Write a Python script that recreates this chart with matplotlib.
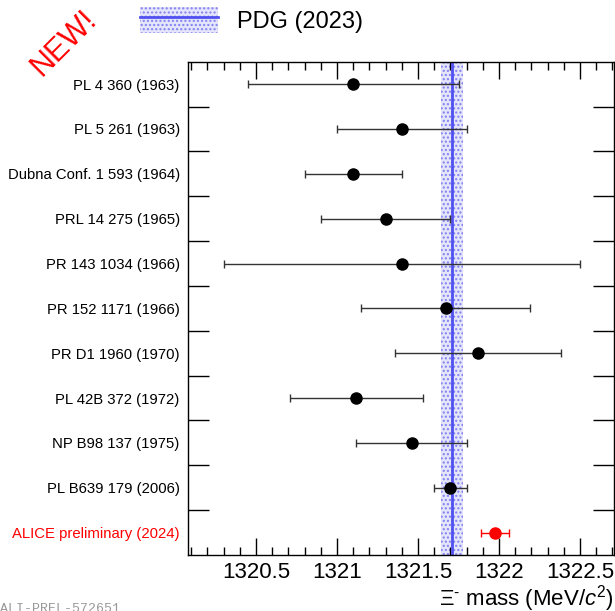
import numpy as np
import matplotlib
matplotlib.use('Agg')
import matplotlib.pyplot as plt
from matplotlib.patches import Patch
from matplotlib.lines import Line2D
from matplotlib.ticker import MultipleLocator, FormatStrFormatter

plt.rcParams['font.family'] = ['Liberation Sans', 'DejaVu Sans']
plt.rcParams['mathtext.fontset'] = 'custom'
plt.rcParams['mathtext.rm'] = 'Liberation Sans'
plt.rcParams['mathtext.it'] = 'Liberation Sans:italic'

# measurements, top to bottom
labels = ['PL 4 360 (1963)', 'PL 5 261 (1963)', 'Dubna Conf. 1 593 (1964)',
          'PRL 14 275 (1965)', 'PR 143 1034 (1966)', 'PR 152 1171 (1966)',
          'PR D1 1960 (1970)', 'PL 42B 372 (1972)', 'NP B98 137 (1975)',
          'PL B639 179 (2006)', 'ALICE preliminary (2024)']
mass = [1321.10, 1321.40, 1321.10, 1321.30, 1321.40, 1321.67,
        1321.87, 1321.12, 1321.46, 1321.70, 1321.975]
err = [0.65, 0.40, 0.30, 0.40, 1.10, 0.52, 0.51, 0.41, 0.34, 0.10, 0.085]

pdg_mass = 1321.71
pdg_err = 0.07

n = len(labels)
ypos = np.arange(n)[::-1] + 0.5

fig = plt.figure(figsize=(6.15, 6.11), dpi=100)
ax = fig.add_axes([188/615, 1-555/611, 1-188/615-0.0016, (555-61.7)/611])

# PDG band
band_col = '#e4e4fa'
ax.axvspan(pdg_mass-pdg_err, pdg_mass+pdg_err, facecolor=band_col,
           edgecolor='#8080f0', hatch='....', lw=0, zorder=1)
ax.axvline(pdg_mass, color='#5050f0', lw=2, zorder=2)

# measurements
for i in range(n):
    col = 'red' if labels[i].startswith('ALICE') else 'black'
    ecol = 'red' if col == 'red' else '#333333'
    ax.errorbar(mass[i], ypos[i], xerr=err[i], fmt='o', color=col, ecolor=ecol,
                ms=8, elinewidth=1, capsize=3, capthick=1, zorder=3)

ax.set_xlim(1320.08, 1322.71)
ax.set_ylim(0, n)

ax.xaxis.set_major_locator(MultipleLocator(0.5))
ax.xaxis.set_minor_locator(MultipleLocator(0.1))
ax.xaxis.set_major_formatter(FormatStrFormatter('%g'))
ax.tick_params(axis='x', which='major', direction='in', length=12, width=1,
               top=True, labelsize=16, pad=5)
ax.tick_params(axis='x', which='minor', direction='in', length=6, width=1, top=True)

ax.set_yticks(np.arange(1, n))
ax.set_yticks(ypos, minor=True)
ax.set_yticklabels([], minor=False)
ax.set_yticklabels(labels, minor=True)
ax.tick_params(axis='y', which='major', direction='in', length=15, width=1,
               right=True, labelleft=False)
ax.tick_params(axis='y', which='minor', length=0, labelsize=10.7, pad=6)
for t in ax.get_yticklabels(minor=True):
    if t.get_text().startswith('ALICE'):
        t.set_color('red')

for s in ax.spines.values():
    s.set_linewidth(1)

ax.set_xlabel(r'$\Xi^{\text{-}}$ mass (MeV/$c^{2}$)', fontsize=16, loc='right',
              labelpad=0)

# legend
h_band = Patch(facecolor=band_col, edgecolor='#8080f0', hatch='....', lw=0)
h_line = Line2D([], [], color='#5050f0', lw=2)
fig.legend([(h_band, h_line)], ['PDG (2023)'], loc='upper left',
           bbox_to_anchor=(140/615, 1-7/611), frameon=False, fontsize=17,
           handlelength=3.3, handleheight=1.3, handletextpad=0.8,
           borderpad=0, borderaxespad=0)

fig.text(64/615, 1-43/611, 'NEW!', color='red', fontsize=22, rotation=45,
         ha='center', va='center')
fig.text(0, 1-603/611, 'ALI-PREL-572651', family='Liberation Mono', fontsize=9.5,
         color='#999999', ha='left', va='top')

fig.savefig('out.png', dpi=100)
